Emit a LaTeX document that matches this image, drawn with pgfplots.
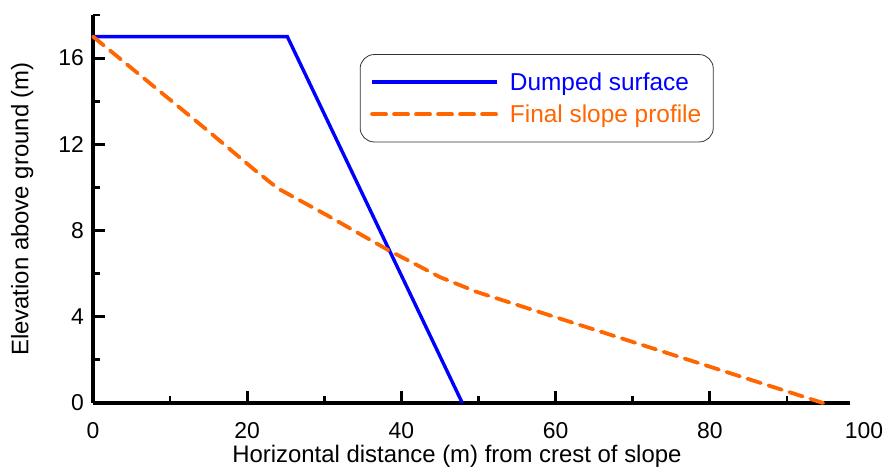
\documentclass[border=0pt]{standalone}
\usepackage{fontspec}
\setmainfont{Liberation Sans}
\usepackage{pgfplots}
\pgfplotsset{compat=1.18}
\definecolor{dumpblue}{RGB}{0,0,255}
\definecolor{slopeorange}{RGB}{255,102,0}
\newcommand{\tickfont}{\fontsize{23}{27}\selectfont}
\newcommand{\figfont}{\fontsize{24}{28}\selectfont}
\newcommand{\legfont}{\fontsize{24.5}{28}\selectfont}

\begin{document}
\begin{tikzpicture}
% frame of the whole picture: axis box lower left at (0,0)
\path[use as bounding box] (-93bp,-68bp) rectangle (794bp,403bp);
\begin{axis}[
  at={(0,0)}, anchor=south west,
  scale only axis, width=771bp, height=388bp,
  xmin=0, xmax=100, ymin=0, ymax=18,
  axis x line=bottom, axis y line=left,
  x axis line style={line width=4bp, -, shorten >=14bp},
  y axis line style={line width=4bp, -},
  xtick={0,20,...,80}, extra x ticks={100}, extra x tick style={major tick length=0pt},
  ytick={0,4,...,16},
  minor xtick={10,30,50,70,90}, minor ytick={2,6,10,14,18},
  tick align=inside, major tick length=12bp, minor tick length=7bp,
  every tick/.style={black, line width=2.8bp},
  tick label style={font=\tickfont, inner sep=0pt}, label style={font=\figfont},
  /pgf/number format/assume math mode=true,
  xticklabel style={anchor=center, yshift=-28bp},
  yticklabel style={anchor=east, xshift=-9bp},
  xlabel={Horizontal distance (m) from crest of slope},
  ylabel={Elevation above ground (m)},
  xlabel style={at={(axis description cs:0.472,-0.137)}, anchor=center},
  ylabel style={at={(axis description cs:-0.092,0.5)}, anchor=center},
  clip=false,
  legend cell align=left,
  legend style={at={(rel axis cs:0.346,0.899)}, anchor=north west, font=\legfont,
    draw=black!80, line width=0.8bp, rounded corners=14bp, inner xsep=10bp, inner ysep=16bp,
    row sep=9bp, nodes={inner sep=2bp}},
  legend image code/.code={\draw[#1] (0bp,0bp) -- (125bp,0bp);},
]
\addplot[dumpblue, line width=3.4bp] coordinates {(0,17) (25.2,17) (47.9,0)};
\addlegendentry{\hspace{9bp}\textcolor{dumpblue}{Dumped surface}}
\addplot[slopeorange, line width=3.8bp, dash pattern=on 14bp off 8bp, line cap=round] coordinates {
  (0,17) (15,12.6) (21,10.8) (24,9.95) (30.4,8.7) (38.5,7.05) (41.5,6.5)
  (45,5.84) (49.8,5.15) (94.7,0)};
\addlegendentry{\hspace{9bp}\textcolor{slopeorange}{Final slope profile}}
\end{axis}
\end{tikzpicture}
\end{document}
